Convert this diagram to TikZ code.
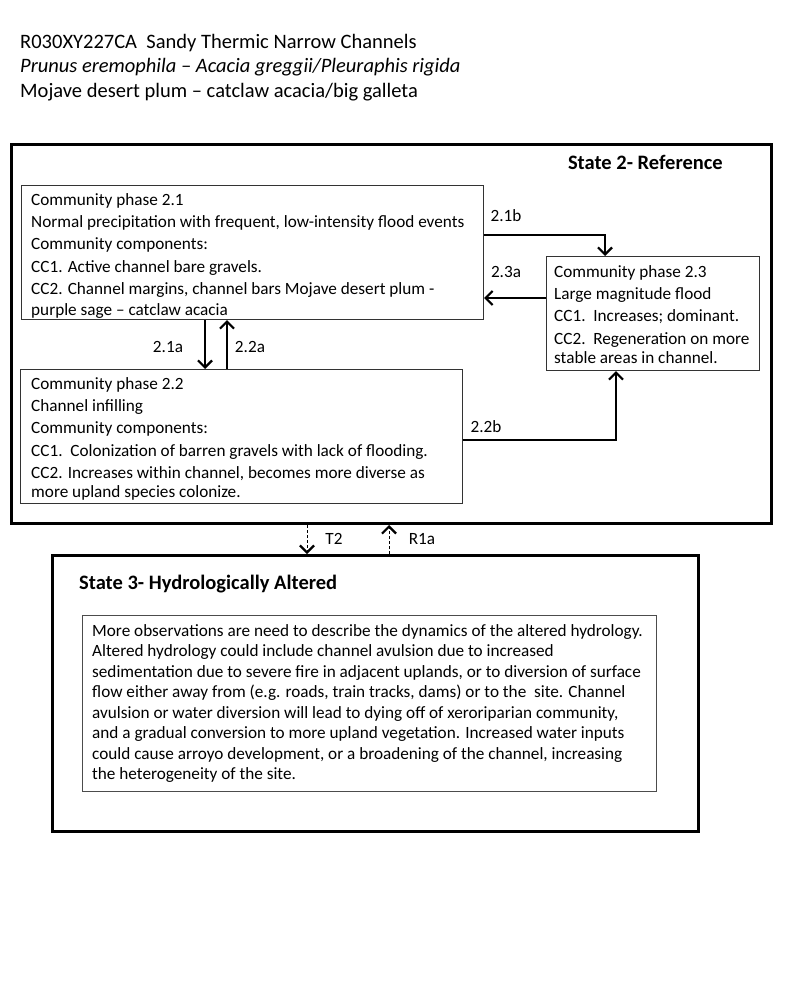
\documentclass[tikz,border=0pt]{standalone}
\usepackage{fontspec}
\setmainfont{Carlito}
\usetikzlibrary{arrows.meta,calc}

\tikzset{
    statebox/.style={draw=black, line width=3pt, inner sep=0pt, anchor=north west},
    phasebox/.style={draw=black!80, line width=1.1pt, inner sep=0pt, anchor=north west},
    phasetext/.style={anchor=north west, inner sep=0pt, align=left, font=\fontsize{17.2}{22.3}\selectfont},
    lbl/.style={inner sep=0pt, font=\fontsize{17.2}{20}\selectfont},
    trans/.style={line width=1.2pt, -{Straight Barb[length=7pt,width=14pt,line width=2.2pt]}},
    dtrans/.style={trans, line width=1pt, dash pattern=on 3pt off 2pt}
}

\begin{document}
\begin{tikzpicture}[x=1pt, y=-1pt]

            \useasboundingbox (0,0) rectangle (800,984);

            % Heading
            \node[anchor=north west, inner sep=0pt, align=left, font=\fontsize{20.5}{24.3}\selectfont] (head) at (20,34)
            {R030XY227CA\ \ Sandy Thermic Narrow Channels\\
             \textit{Prunus eremophila – Acacia greggii/Pleuraphis rigida}\\
             Mojave desert plum – catclaw acacia/big galleta};

            % State 2 and its phases
            \node[statebox, minimum width=760pt, minimum height=379pt] (s2) at (10,143) {};
            \node[anchor=east, inner sep=0pt, font=\fontsize{20.5}{24}\bfseries] (s2t) at (723,162) {State 2- Reference};

            \node[phasebox, minimum width=462pt, minimum height=134pt] (p21) at (21,185) {};
            \node[phasebox, minimum width=213pt, minimum height=114pt] (p23) at (546,256) {};
            \node[phasebox, minimum width=442pt, minimum height=134pt] (p22) at (20,369) {};

            \node[phasetext] (t21) at ([shift={(10pt,-8pt)}]p21.north west)
            {Community phase 2.1\\
             Normal precipitation with frequent, low-intensity flood events\\
             Community components:\\
             CC1. Active channel bare gravels.\\
             CC2. Channel margins, channel bars Mojave desert plum -\\[-1pt]
             purple sage – catclaw acacia};
            \node[phasetext] (t23) at ([shift={(8pt,-9pt)}]p23.north west)
            {Community phase 2.3\\
             Large magnitude flood\\
             CC1.\ \ Increases; dominant.\\
             CC2.\ \ Regeneration on more\\[-3pt]
             stable areas in channel.};
            \node[phasetext] (t22) at ([shift={(11pt,-8pt)}]p22.north west)
            {Community phase 2.2\\
             Channel infilling\\
             Community components:\\
             CC1.\ \ Colonization of barren gravels with lack of flooding.\\
             CC2. Increases within channel, becomes more diverse as\\[-3pt]
             more upland species colonize.};

            % Phase transitions
            \draw[trans] ([yshift=-50pt]p21.north east) -| ([xshift=59pt]p23.north west);
            \draw[trans] ([yshift=-42pt]p23.north west) -- ([yshift=-42pt]p23.north west -| p21.east);
            \draw[trans] ([xshift=184pt]p21.south west) -- ([xshift=184pt]p21.south west |- p22.north);
            \draw[trans] ([xshift=207pt]p22.north west) -- ([xshift=207pt]p22.north west |- p21.south);
            \draw[trans] ([yshift=-71pt]p22.north east) -| ([xshift=70pt]p23.south west);

            \node[lbl] (l21b) at (506,216) {2.1b};
            \node[lbl] (l23a) at (506,272) {2.3a};
            \node[lbl] (l21a) at (168,347) {2.1a};
            \node[lbl] (l22a) at (250,347) {2.2a};
            \node[lbl] (l22b) at (486,427) {2.2b};

            % State 3
            \node[statebox, minimum width=646pt, minimum height=276pt] (s3) at (51,554) {};
            \node[anchor=west, inner sep=0pt, font=\fontsize{20.5}{24}\bfseries] (s3t) at (79,584) {State 3- Hydrologically Altered};
            \node[phasebox, draw=black!70, minimum width=574pt, minimum height=176pt] (p3) at (82,615) {};
            \node[phasetext, font=\fontsize{17.2}{20.5}\selectfont] (t3) at ([shift={(10pt,-9pt)}]p3.north west)
            {More observations are need to describe the dynamics of the altered hydrology.\\
             Altered hydrology could include channel avulsion due to increased\\
             sedimentation due to severe fire in adjacent uplands, or to diversion of surface\\
             flow either away from (e.g. roads, train tracks, dams) or to the\ \ site. Channel\\
             avulsion or water diversion will lead to dying off of xeroriparian community,\\
             and a gradual conversion to more upland vegetation. Increased water inputs\\
             could cause arroyo development, or a broadening of the channel, increasing\\
             the heterogeneity of the site.};

            % State transitions
            \draw[dtrans] ([xshift=297pt]s2.south west) -- ([xshift=297pt]s2.south west |- s3.north);
            \draw[dtrans] ([xshift=338pt]s3.north west) -- ([xshift=338pt]s3.north west |- s2.south);
            \node[lbl] (lt2) at (334,539) {T2};
            \node[lbl] (lr1a) at (422,539) {R1a};

        \end{tikzpicture}
\end{document}
